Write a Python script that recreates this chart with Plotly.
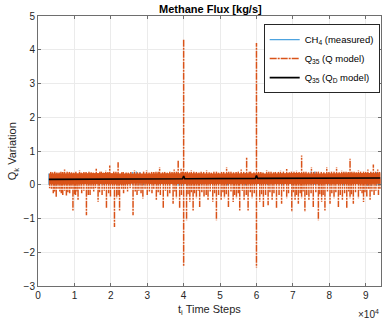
import plotly.graph_objects as go

# ---- data ----
x_tick_vals = [0, 10000, 20000, 30000, 40000, 50000, 60000, 70000, 80000, 90000]
x_tick_text = ["0", "1", "2", "3", "4", "5", "6", "7", "8", "9"]
y_tick_vals = [-3, -2, -1, 0, 1, 2, 3, 4, 5]

# Q35 (Q model): dense band envelope
band_t = [3000, 7000, 11000, 15000, 19000, 23000, 27000, 31000, 35000, 39000, 43000, 47000,
          51000, 55000, 59000, 63000, 67000, 71000, 75000, 79000, 83000, 87000, 91000, 94000]
band_hi = [0.33, 0.34, 0.33, 0.34, 0.35, 0.33, 0.32, 0.33, 0.34, 0.35, 0.34, 0.33,
           0.34, 0.35, 0.34, 0.33, 0.34, 0.35, 0.33, 0.34, 0.35, 0.34, 0.35, 0.34]
band_lo = [0.02, 0.01, 0.02, 0.03, 0.02, 0.01, 0.04, 0.02, 0.02, 0.01, 0.02, 0.03,
           0.02, 0.01, 0.02, 0.03, 0.02, 0.02, 0.03, 0.02, 0.01, 0.02, 0.02, 0.03]

# Q35 (Q model): main upward spikes
up_t = [3500, 5200, 6300, 7300, 8600, 9800, 11400, 12600, 14000, 15200, 16000, 17400, 18600,
        19700, 20800, 22000, 23400, 24800, 26500, 28000, 29800, 31200, 32400, 33400, 34800,
        36200, 37400, 38500, 39300, 40000, 41000, 42100, 43500, 44800, 46300, 47600, 49000,
        50400, 51800, 53000, 54400, 55800, 57300, 58400, 60000, 61200, 62800, 64000, 65200,
        66600, 68300, 69600, 71000, 72400, 73600, 75100, 76400, 77800, 79300, 80600, 82000,
        83400, 84600, 85700, 86800, 88000, 89400, 90600, 92100, 93300]
up_v = [0.38, 0.36, 0.40, 0.45, 0.38, 0.36, 0.43, 0.38, 0.40, 0.36, 0.50, 0.40, 0.42,
        0.57, 0.40, 0.67, 0.38, 0.36, 0.43, 0.36, 0.43, 0.38, 0.40, 0.52, 0.38,
        0.40, 0.45, 0.72, 0.50, 4.30, 0.40, 0.43, 0.38, 0.40, 0.43, 0.36, 0.40,
        0.38, 0.52, 0.40, 0.38, 0.45, 0.82, 0.40, 4.20, 0.38, 0.43, 0.40, 0.38,
        0.42, 0.47, 0.40, 0.42, 0.87, 0.40, 0.52, 0.40, 0.38, 0.52, 0.40, 0.52,
        0.42, 0.40, 0.77, 0.40, 0.43, 0.40, 0.45, 0.60, 0.45]

# Q35 (Q model): main downward spikes
dn_t = [3200, 4200, 5000, 6000, 6800, 7800, 8700, 9600, 10300, 11000, 12000, 13300, 14300,
        15300, 16500, 17600, 18800, 19900, 21000, 21600, 22400, 23500, 24600, 26100, 27200,
        28800, 30000, 31300, 32500, 33600, 34400, 35600, 37100, 38000, 38900, 40000, 40800,
        41700, 42600, 43500, 44400, 45600, 46700, 48000, 49000, 50300, 51200, 52300, 53600,
        54500, 55400, 56600, 57700, 58800, 60000, 60900, 61900, 63200, 64300, 65500, 66900,
        68300, 69700, 70600, 71500, 72400, 73300, 74400, 75600, 77000, 77900, 78800, 80200,
        81300, 82500, 83600, 84800, 85700, 86600, 88000, 89400, 90300, 91200, 92300, 93500]
dn_v = [-0.10, -0.25, -0.37, -0.20, -0.30, -0.32, -0.25, -0.76, -0.30, -0.47, -0.25, -0.90, -0.30,
        -0.20, -0.50, -0.30, -0.70, -0.35, -1.25, -0.40, -0.76, -0.25, -0.20, -0.90, -0.30,
        -0.41, -0.30, -0.25, -0.46, -0.30, -0.71, -0.35, -0.56, -0.40, -0.71, -2.40, -1.05,
        -0.50, -0.76, -0.40, -0.66, -0.35, -0.46, -0.50, -1.05, -0.45, -0.40, -0.66, -0.51,
        -0.40, -0.76, -0.45, -0.76, -0.40, -2.45, -0.50, -0.66, -0.61, -0.45, -0.71, -0.56,
        -0.40, -0.81, -0.45, -0.56, -0.40, -0.81, -0.45, -0.66, -1.05, -0.50, -0.76, -0.56,
        -0.40, -0.66, -0.45, -0.71, -0.40, -0.56, -0.40, -0.51, -0.35, -0.46, -0.30, -0.30]

# Q35 (Q model): small fringe spikes around the band
fr_up_t = [4000, 4600, 5800, 6800, 8000, 9200, 10400, 11900, 13200, 14600, 17000, 18000,
           19200, 21400, 23000, 24200, 25500, 27300, 29000, 30500, 31800, 33000, 34200, 35500,
           36800, 38000, 39700, 40500, 41600, 42800, 44200, 45500, 47000, 48300, 49600, 51000,
           52400, 53700, 55000, 56500, 58000, 59300, 60600, 61800, 63400, 64700, 66000, 67400,
           69000, 70300, 71700, 73000, 74300, 75700, 77000, 78500, 79900, 81300, 82700, 84000,
           85200, 86200, 87400, 88600, 90000, 91400, 92700, 93800]
fr_up_v = [0.37, 0.39, 0.36, 0.38, 0.40, 0.37, 0.39, 0.36, 0.38, 0.37, 0.39, 0.36,
           0.38, 0.40, 0.37, 0.36, 0.38, 0.37, 0.39, 0.36, 0.38, 0.40, 0.37, 0.36,
           0.38, 0.39, 0.40, 0.38, 0.37, 0.39, 0.36, 0.38, 0.37, 0.39, 0.36, 0.38,
           0.40, 0.37, 0.39, 0.38, 0.40, 0.37, 0.38, 0.36, 0.39, 0.37, 0.38, 0.40,
           0.37, 0.39, 0.38, 0.40, 0.37, 0.38, 0.39, 0.37, 0.38, 0.40, 0.37, 0.39,
           0.38, 0.40, 0.37, 0.39, 0.38, 0.40, 0.39, 0.38]
fr_dn_t = [3700, 4600, 5500, 6400, 7300, 8200, 9100, 10000, 10700, 11500, 12600, 13800,
           14800, 15800, 16900, 18200, 19400, 20500, 22000, 23000, 24000, 25300, 26700, 27700,
           28300, 29400, 30600, 31800, 33000, 35000, 36200, 37600, 39400, 41200, 42100, 43000,
           44000, 45000, 46200, 47300, 48500, 49600, 50800, 51700, 53000, 54000, 55000, 56100,
           57200, 58300, 59400, 61400, 62500, 63700, 64800, 66200, 67500, 68800, 70100, 71000,
           72000, 72800, 73800, 75000, 76300, 77400, 78300, 79500, 80700, 81800, 83000, 84200,
           85300, 86100, 87200, 88500, 89000, 89800, 90800, 91700, 92800, 93900]
fr_dn_v = [-0.15, -0.20, -0.12, -0.25, -0.18, -0.22, -0.15, -0.28, -0.20, -0.12, -0.18, -0.30,
           -0.15, -0.10, -0.22, -0.18, -0.25, -0.15, -0.30, -0.12, -0.15, -0.10, -0.20, -0.18,
           -0.25, -0.15, -0.20, -0.12, -0.22, -0.18, -0.25, -0.20, -0.30, -0.28, -0.22, -0.25,
           -0.18, -0.22, -0.30, -0.20, -0.25, -0.30, -0.22, -0.28, -0.20, -0.30, -0.25, -0.18,
           -0.30, -0.22, -0.25, -0.28, -0.30, -0.22, -0.25, -0.30, -0.20, -0.25, -0.22, -0.30,
           -0.25, -0.20, -0.30, -0.25, -0.22, -0.28, -0.30, -0.20, -0.25, -0.22, -0.30, -0.25,
           -0.20, -0.28, -0.22, -0.18, -0.25, -0.22, -0.15, -0.20, -0.18, -0.15]
spike_base = 0.18

# CH4 (measured)
ch4_t = [3000, 5000, 9000, 14000, 18000, 24000, 26000, 27000, 28000, 29000, 33000, 38500,
         39500, 41000, 45000, 52000, 57000, 63000, 67000, 70000, 75000, 76000, 77000, 80000,
         84000, 88000, 90500, 91500, 93000]
ch4_hi = [0.33, 0.33, 0.34, 0.33, 0.35, 0.33, 0.38, 0.39, 0.38, 0.37, 0.34, 0.33,
          0.33, 0.34, 0.33, 0.34, 0.35, 0.33, 0.34, 0.35, 0.39, 0.39, 0.38, 0.35,
          0.36, 0.34, 0.35, 0.36, 0.37]
ch4_lo = [0.00, -0.02, 0.00, -0.01, 0.00, -0.01, 0.00, 0.01, 0.00, -0.01, 0.00, -0.03,
          -0.04, -0.02, -0.01, -0.02, -0.02, -0.01, -0.02, -0.01, -0.01, 0.00, -0.01, -0.02,
          -0.02, -0.01, -0.03, -0.04, -0.03]

# Q35 (QD model)
qd_t = [3000, 20000, 39700, 40000, 40300, 59700, 60000, 60300, 80000, 94000]
qd_v = [0.16, 0.17, 0.18, 0.26, 0.18, 0.19, 0.27, 0.19, 0.20, 0.20]

C_BLUE = "#4DA3DF"
C_ORANGE = "#D95319"
C_BLACK = "#000000"
FONT = "Liberation Sans, Arial, sans-serif"

# ---- build traces ----
def segments(ts, lo, hi):
    xs, ys = [], []
    for t, a, b in zip(ts, lo, hi):
        xs += [t, t, None]
        ys += [a, b, None]
    return xs, ys

fig = go.Figure()

cx, cy = segments(ch4_t, ch4_lo, ch4_hi)
fig.add_trace(go.Scatter(x=cx, y=cy, mode="lines", name="CH<sub>4</sub> (measured)",
                         line=dict(color=C_BLUE, width=1.2), connectgaps=False))

fig.add_trace(go.Scatter(x=band_t + band_t[::-1], y=band_hi + band_lo[::-1], mode="lines",
                         fill="toself", fillcolor=C_ORANGE, line=dict(width=0),
                         showlegend=False, hoverinfo="skip"))

sx1, sy1 = segments(up_t, [spike_base] * len(up_t), up_v)
sx2, sy2 = segments(dn_t, [spike_base] * len(dn_t), dn_v)
sx3, sy3 = segments(fr_up_t, [spike_base] * len(fr_up_t), fr_up_v)
sx4, sy4 = segments(fr_dn_t, [spike_base] * len(fr_dn_t), fr_dn_v)
fig.add_trace(go.Scatter(x=sx1 + sx2 + sx3 + sx4, y=sy1 + sy2 + sy3 + sy4, mode="lines",
                         name="Q<sub>35</sub> (Q model)",
                         line=dict(color=C_ORANGE, width=1.5, dash="7px,1px,2px,1px"),
                         connectgaps=False))

fig.add_trace(go.Scatter(x=qd_t, y=qd_v, mode="lines", name="Q<sub>35</sub> (Q<sub>D</sub> model)",
                         line=dict(color=C_BLACK, width=1.6)))

axis_common = dict(showline=True, linecolor="#6e6e6e", linewidth=1, mirror="allticks",
                   ticks="inside", ticklen=3, tickcolor="#6e6e6e", showgrid=True,
                   gridcolor="#ebebeb", gridwidth=1, zeroline=False,
                   tickfont=dict(family=FONT, size=10, color="#262626"))

fig.update_layout(
    width=386, height=326,
    margin=dict(l=38, r=5, t=16, b=40),
    paper_bgcolor="white", plot_bgcolor="white",
    font=dict(family=FONT, size=10, color="#262626"),
    title=dict(text="<b>Methane Flux [kg/s]</b>", x=0.545, xanchor="center",
               y=1 - 9.5 / 326, yanchor="middle", font=dict(family=FONT, size=11, color="#000000")),
    xaxis=dict(range=[0, 94200], tickvals=x_tick_vals, ticktext=x_tick_text, **axis_common),
    yaxis=dict(range=[-3, 5], tickvals=y_tick_vals, **axis_common),
    legend=dict(x=0.658, y=0.97, xanchor="left", yanchor="top", bgcolor="white",
                bordercolor="#262626", borderwidth=1, font=dict(family=FONT, size=9.5, color="#000000"),
                itemwidth=30, tracegroupgap=0),
    showlegend=True,
    annotations=[
        dict(text="Q<sub>k</sub> Variation", xref="paper", yref="paper", x=-0.072, y=0.5,
             xanchor="center", yanchor="middle", textangle=-90, showarrow=False,
             font=dict(family=FONT, size=11, color="#262626")),
        dict(text="t<sub>i</sub> Time Steps", xref="paper", yref="paper", x=0.5, y=-0.088,
             xanchor="center", yanchor="middle", showarrow=False,
             font=dict(family=FONT, size=11, color="#262626")),
        dict(text="×10<sup>4</sup>", xref="paper", yref="paper", x=1.0, y=-0.105,
             xanchor="right", yanchor="middle", showarrow=False,
             font=dict(family=FONT, size=10, color="#262626")),
    ],
)

fig.write_html("out.html", config={"displayModeBar": False})

# remove default page margin so the 386x326 figure fills the window exactly
with open("out.html", "r", encoding="utf-8") as f:
    html = f.read()
html = html.replace("<head>", "<head><style>html,body{margin:0;padding:0;overflow:hidden;}</style>", 1)
with open("out.html", "w", encoding="utf-8") as f:
    f.write(html)
